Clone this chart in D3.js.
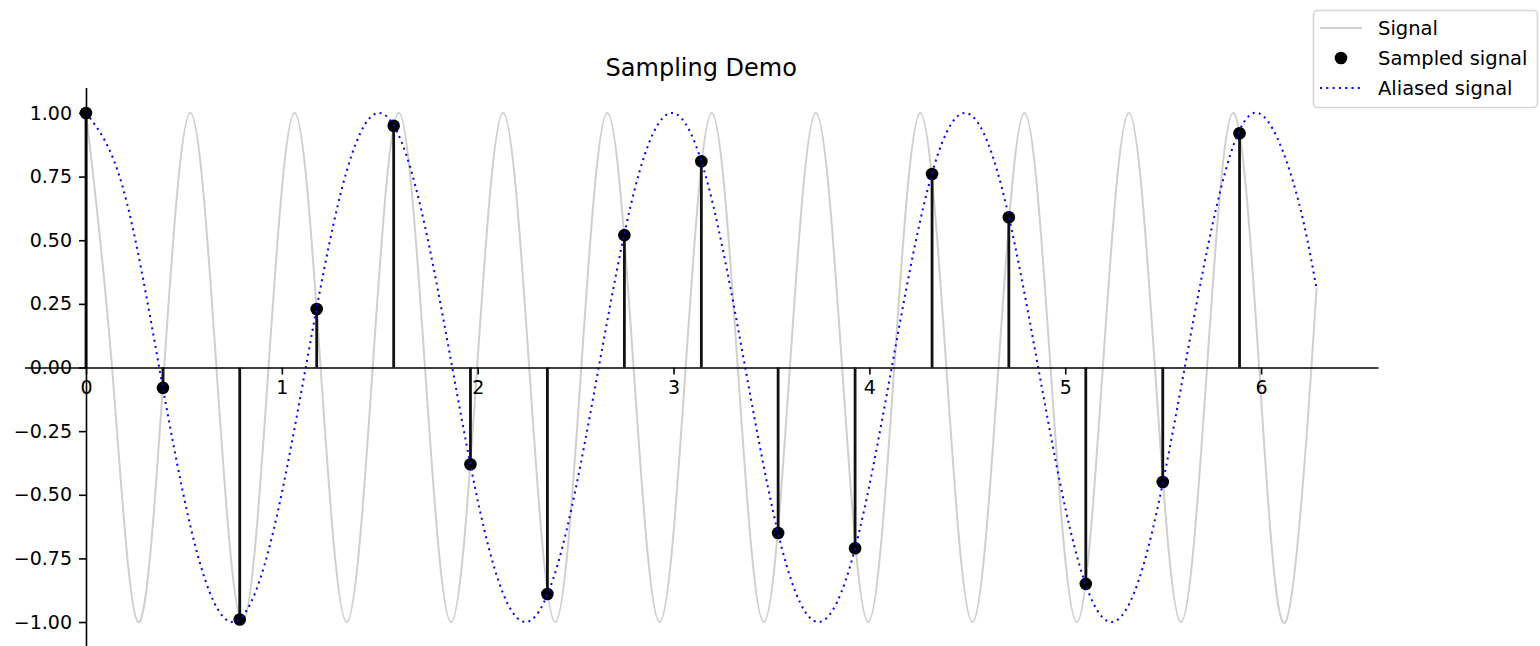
<!DOCTYPE html>
<html>
<head>
<meta charset="utf-8">
<script src="https://cdn.jsdelivr.net/npm/d3@7"></script>
<style>
  body { margin: 0; background: #fff; }
  text { font-family: "DejaVu Sans", sans-serif; fill: #000; }
</style>
</head>
<body>
<div id="chart"></div>
<script type="text/javascript">
  const width = 1540,
    height = 646;

  const sampleT = [0, 0.393, 0.785, 1.178, 1.571, 1.963, 2.356, 2.749, 3.142, 3.534, 3.927, 4.320, 4.712, 5.105, 5.498, 5.890];
  const sampleY = [1.00, -0.08, -0.99, 0.23, 0.95, -0.38, -0.89, 0.52, 0.81, -0.65, -0.71, 0.76, 0.59, -0.85, -0.45, 0.92];

  // grey signal: peaks, zero crossings and troughs
  const signalT = [0, 0.133, 0.266, 0.399, 0.533, 0.666, 0.799, 0.932, 1.065, 1.198, 1.331, 1.464,
    1.597, 1.731, 1.864, 1.997, 2.130, 2.263, 2.396, 2.529, 2.662, 2.796, 2.929, 3.062,
    3.195, 3.328, 3.461, 3.594, 3.727, 3.861, 3.994, 4.127, 4.260, 4.393, 4.526, 4.659,
    4.792, 4.925, 5.059, 5.192, 5.325, 5.458, 5.591, 5.724, 5.857, 5.990, 6.124, 6.257, 6.283];
  const signalY = [1, 0, -1, 0, 1, 0, -1, 0, 1, 0, -1, 0,
    1, 0, -1, 0, 1, 0, -1, 0, 1, 0, -1, 0,
    1, 0, -1, 0, 1, 0, -1, 0, 1, 0, -1, 0,
    1, 0, -1, 0, 1, 0, -1, 0, 1, 0, -1, 0, 0.31];

  // blue aliased signal
  const aliasT = [0, 0.187, 0.374, 0.561, 0.748, 0.935, 1.122, 1.309, 1.496, 1.683, 1.870, 2.057,
    2.244, 2.431, 2.618, 2.805, 2.992, 3.179, 3.366, 3.553, 3.740, 3.927, 4.114, 4.301,
    4.488, 4.675, 4.862, 5.049, 5.236, 5.423, 5.610, 5.797, 5.984, 6.171, 6.283];
  const aliasY = [1, 0.71, 0, -0.71, -1, -0.71, 0, 0.71, 1, 0.71, 0, -0.71,
    -1, -0.71, 0, 0.71, 1, 0.71, 0, -0.71, -1, -0.71, 0, 0.71,
    1, 0.71, 0, -0.71, -1, -0.71, 0, 0.71, 1, 0.71, 0.31];

  const xTicks = [0, 1, 2, 3, 4, 5, 6];
  const yTicks = [-1, -0.75, -0.5, -0.25, 0, 0.25, 0.5, 0.75, 1];
  const legendLabels = ["Signal", "Sampled signal", "Aliased signal"];

  const x = d3.scaleLinear().domain([-0.314, 6.597]).range([24.5, 1378]);
  const y = d3.scaleLinear().domain([-1.1, 1.1]).range([647.5, 87.5]);

  const svg = d3.select("#chart").append("svg")
    .attr("width", width)
    .attr("height", height);

  const line = d3.line()
    .x(function(d) { return x(d[0]); })
    .y(function(d) { return y(d[1]); })
    .curve(d3.curveNatural);

  svg.append("path")
    .datum(d3.zip(signalT, signalY))
    .attr("d", line)
    .attr("fill", "none")
    .attr("stroke", "#cfcfcf")
    .attr("stroke-width", 2);

  const samples = d3.zip(sampleT, sampleY);

  svg.append("g").selectAll("line")
    .data(samples)
    .enter().append("line")
    .attr("x1", function(d) { return x(d[0]); })
    .attr("x2", function(d) { return x(d[0]); })
    .attr("y1", y(0))
    .attr("y2", function(d) { return y(d[1]); })
    .attr("stroke", "#111")
    .attr("stroke-width", 2.8);

  svg.append("g").selectAll("circle")
    .data(samples)
    .enter().append("circle")
    .attr("cx", function(d) { return x(d[0]); })
    .attr("cy", function(d) { return y(d[1]); })
    .attr("r", 6.3)
    .attr("fill", "#000");

  svg.append("path")
    .datum(d3.zip(aliasT, aliasY))
    .attr("d", line)
    .attr("fill", "none")
    .attr("stroke", "#0000ff")
    .attr("stroke-width", 2)
    .attr("stroke-dasharray", "2,4.3");

  // spines through zero
  const xAxis = svg.append("g")
    .attr("transform", "translate(0," + y(0) + ")")
    .call(d3.axisBottom(x).tickValues(xTicks).tickSize(7).tickSizeOuter(0).tickPadding(6)
      .tickFormat(d3.format("d")));

  const yAxis = svg.append("g")
    .attr("transform", "translate(" + x(0) + ",0)")
    .call(d3.axisLeft(y).tickValues(yTicks).tickSize(7).tickSizeOuter(0).tickPadding(7)
      .tickFormat(function(d) { return d3.format(".2f")(d).replace("-", "\u2212"); }));

  [xAxis, yAxis].forEach(function(a) {
    a.select(".domain").attr("stroke", "#000").attr("stroke-width", 1.6);
    a.selectAll(".tick line").attr("stroke", "#000").attr("stroke-width", 1.6);
    a.selectAll(".tick text")
      .style("font-family", "DejaVu Sans")
      .style("font-size", "19px")
      .attr("fill", "#000");
  });

  svg.append("text")
    .attr("x", (x.range()[0] + x.range()[1]) / 2)
    .attr("y", 76)
    .attr("text-anchor", "middle")
    .style("font-size", "24px")
    .text("Sampling Demo");

  // legend
  const legend = svg.append("g").attr("id", "legend");

  legend.append("rect")
    .attr("x", 1313.5)
    .attr("y", 10.5)
    .attr("width", 224)
    .attr("height", 97)
    .attr("rx", 4)
    .attr("fill", "#fff")
    .attr("stroke", "#d6d6d6")
    .attr("stroke-width", 1.6);

  const rows = legend.selectAll(".row")
    .data(legendLabels)
    .enter().append("g")
    .attr("class", "row")
    .attr("transform", function(d, i) { return "translate(1320," + (28 + i * 30) + ")"; });

  rows.append("text")
    .attr("x", 58)
    .attr("dy", "0.35em")
    .style("font-size", "19.5px")
    .text(function(d) { return d; });

  rows.filter(function(d, i) { return i === 0; }).append("line")
    .attr("x1", 0).attr("x2", 42)
    .attr("stroke", "#cfcfcf").attr("stroke-width", 2);

  rows.filter(function(d, i) { return i === 1; }).append("circle")
    .attr("cx", 21).attr("r", 6.3).attr("fill", "#000");

  rows.filter(function(d, i) { return i === 2; }).append("line")
    .attr("x1", 0).attr("x2", 42)
    .attr("stroke", "#0000ff").attr("stroke-width", 2)
    .attr("stroke-dasharray", "2,4.3");
</script>
</body>
</html>
